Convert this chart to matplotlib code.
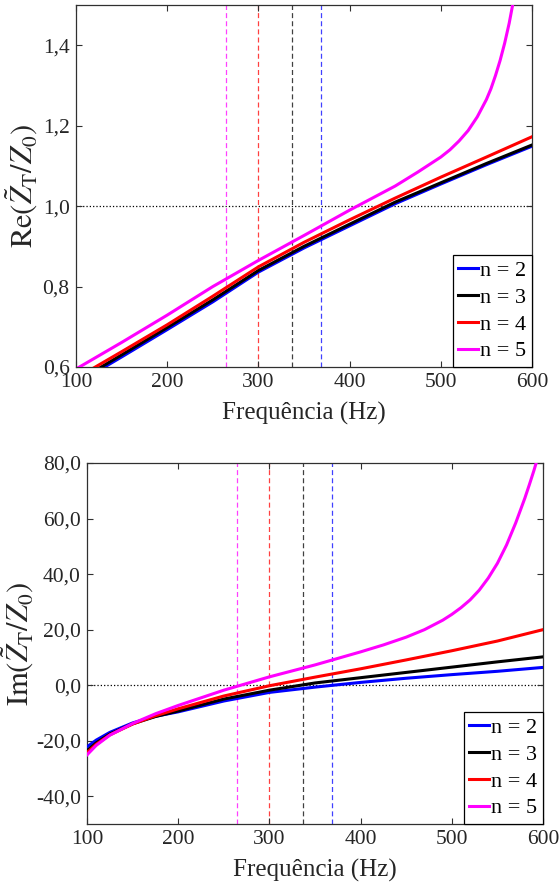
import numpy as np
import matplotlib
matplotlib.use('Agg')
import matplotlib.pyplot as plt
from matplotlib.ticker import FuncFormatter

plt.rcParams['font.family'] = ['Liberation Serif', 'DejaVu Serif']
plt.rcParams['mathtext.fontset'] = 'stix'

# --- dados ---
labels = ['n = 2', 'n = 3', 'n = 4', 'n = 5']
cores = ['#0000ff', '#000000', '#ff0000', '#ff00ff']
f_corte = [369, 337, 300, 264]          # linhas tracejadas verticais (Hz)

f_re = [100, 150, 200, 250, 300, 350, 400, 450, 500, 550, 600]
re_n2 = [0.558, 0.625, 0.693, 0.762, 0.836, 0.896, 0.951, 1.006, 1.055, 1.103, 1.149]
re_n3 = [0.563, 0.630, 0.698, 0.767, 0.840, 0.900, 0.955, 1.010, 1.058, 1.106, 1.152]
re_n4 = [0.572, 0.638, 0.705, 0.776, 0.849, 0.910, 0.966, 1.020, 1.072, 1.122, 1.1725]
f_re5 = [100, 150, 200, 250, 300, 350, 400, 425, 450, 475, 500, 510, 520, 530, 540, 550,
         555, 560, 565, 570, 575, 580, 585, 590]
re_n5 = [0.595, 0.661, 0.729, 0.800, 0.865, 0.927, 0.990, 1.020, 1.050, 1.085, 1.122, 1.140,
         1.162, 1.188, 1.222, 1.265, 1.292, 1.325, 1.362, 1.405, 1.455, 1.515, 1.590, 1.680]

f_im = [100, 110, 125, 150, 175, 200, 250, 300, 350, 400, 450, 500, 550, 600]
im_n2 = [-22.2, -19.8, -17.0, -13.6, -11.2, -9.6, -5.7, -2.6, -0.7, 1.0, 2.5, 3.8, 5.0, 6.4]
im_n3 = [-23.6, -20.8, -17.6, -13.9, -11.3, -9.3, -5.0, -1.8, 0.8, 2.7, 4.6, 6.5, 8.4, 10.2]
im_n4 = [-24.3, -21.3, -17.9, -14.0, -11.0, -8.5, -3.9, -0.2, 2.9, 5.9, 9.1, 12.4, 15.9, 20.0]
f_im5 = [100, 110, 125, 150, 175, 200, 250, 300, 350, 400, 425, 450, 470, 490, 500, 510,
         520, 530, 540, 550, 560, 570, 580, 585, 590, 595, 600]
im_n5 = [-25.1, -21.7, -18.0, -13.8, -10.3, -7.3, -1.8, 3.0, 7.3, 12.0, 14.5, 17.3, 20.0,
         23.4, 25.5, 27.9, 30.7, 34.2, 38.6, 43.9, 50.5, 58.4, 67.3, 72.2, 77.3, 82.8, 88.8]

serie_re = [(f_re, re_n2), (f_re, re_n3), (f_re, re_n4), (f_re5, re_n5)]
serie_im = [(f_im, im_n2), (f_im, im_n3), (f_im, im_n4), (f_im5, im_n5)]

fig = plt.figure(figsize=(5.6, 8.85), dpi=100)
ax1 = fig.add_axes([0.1357, 0.5853, 0.8143, 0.4090])
ax2 = fig.add_axes([0.1554, 0.0689, 0.8143, 0.4079])


def virgula(casas):
    return FuncFormatter(lambda v, pos: f'{v:.{casas}f}'.replace('.', ','))


def estilo(ax):
    for s in ax.spines.values():
        s.set_color('#303030')
        s.set_linewidth(0.9)
    ax.tick_params(direction='in', top=True, right=True, length=4, width=0.8, pad=4.5,
                   colors='#303030', labelsize=15.5, labelcolor='#262626')
    ax.set_xlim(100, 600)
    ax.set_xticks([100, 200, 300, 400, 500, 600])
    ax.set_xlabel('Frequência (Hz)', fontsize=18, color='#262626', labelpad=7)


def desenha(ax, series, yref):
    for fc, c in zip(f_corte, cores):
        ax.axvline(fc, color=c, ls=(0, (4, 2.5)), lw=0.9, alpha=0.75, zorder=1)
    ax.axhline(yref, color='black', ls=':', lw=0.9, zorder=1)
    for (fx, vy), c, lab in zip(series, cores, labels):
        ax.plot(fx, vy, color=c, lw=2.2, label=lab, zorder=3)
    leg = ax.legend(loc='lower right', fontsize=16, fancybox=False, framealpha=1,
                    edgecolor='black', borderaxespad=0, handlelength=0.9,
                    handletextpad=0.1, labelspacing=0.28, borderpad=0.25)
    leg.get_frame().set_linewidth(0.9)


desenha(ax1, serie_re, 1.0)
estilo(ax1)
ax1.set_ylim(0.6, 1.5)
ax1.set_yticks([0.6, 0.8, 1.0, 1.2, 1.4])
ax1.yaxis.set_major_formatter(virgula(1))
ax1.set_ylabel(r'$\mathrm{Re}(\tilde{Z}_\mathrm{T}/Z_0)$', fontsize=22, color='#262626', labelpad=2)

desenha(ax2, serie_im, 0.0)
estilo(ax2)
ax2.set_ylim(-50, 80)
ax2.set_yticks([-40, -20, 0, 20, 40, 60, 80])
ax2.yaxis.set_major_formatter(virgula(1))
ax2.set_ylabel(r'$\mathrm{Im}(\tilde{Z}_\mathrm{T}/Z_0)$', fontsize=22, color='#262626', labelpad=0)

fig.savefig('out.png', dpi=100)
